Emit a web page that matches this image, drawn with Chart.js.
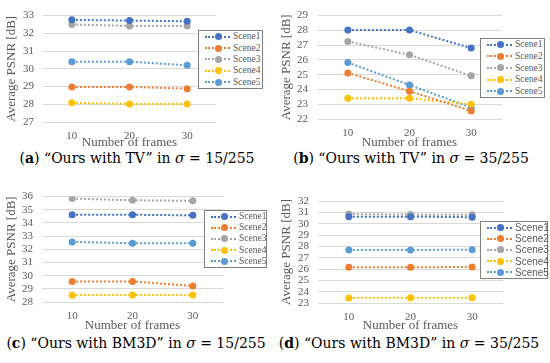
<!DOCTYPE html>
<html>
<head>
<meta charset="utf-8">
<script src="https://cdn.jsdelivr.net/npm/chart.js@4.4.0/dist/chart.umd.min.js"></script>
<style>
    body { margin: 0; background: #fff; width: 550px; height: 363px; position: relative; overflow: hidden; }
    canvas { position: absolute; }
    .legend { position: absolute; box-sizing: border-box; border: 1px solid #7f7f7f; background: #fff; }
    .legend .row { position: relative; }
    .legend .ln { position: absolute; left: 6px; width: 25px; border-top: 2px dotted; }
    .legend .dot { position: absolute; left: 16px; width: 7px; height: 7px; border-radius: 50%; }
    .legend .txt { position: absolute; left: 34px; font-family: "Liberation Serif", serif; font-size: 9.5px; color: #595959; white-space: nowrap; }
    .caption { position: absolute; font-family: "DejaVu Serif", serif; font-size: 14px; color: #000; white-space: nowrap; transform: translate(-50%, -50%); }
</style>
</head>
<body>
<canvas id="chartA"></canvas>
<canvas id="chartB"></canvas>
<canvas id="chartC"></canvas>
<canvas id="chartD"></canvas>

<script>
    const frames = ['10', '20', '30'];
    const sceneNames = ['Scene1', 'Scene2', 'Scene3', 'Scene4', 'Scene5'];
    const sceneColors = ['#4472C4', '#ED7D31', '#A5A5A5', '#FFC000', '#5B9BD5'];

    // Average PSNR per scene (rows) over 10/20/30 frames
    const tv15 = [
        [32.76, 32.72, 32.68],
        [28.98, 28.98, 28.88],
        [32.50, 32.42, 32.42],
        [28.08, 28.02, 28.02],
        [30.40, 30.40, 30.20]
    ];
    const tv35 = [
        [28.02, 28.02, 26.80],
        [25.12, 23.88, 22.55],
        [27.25, 26.35, 24.92],
        [23.40, 23.40, 23.00],
        [25.82, 24.30, 22.78]
    ];
    const bm15 = [
        [34.62, 34.62, 34.58],
        [29.55, 29.56, 29.22],
        [35.85, 35.72, 35.68],
        [28.52, 28.54, 28.53],
        [32.56, 32.46, 32.45]
    ];
    const bm35 = [
        [30.62, 30.62, 30.57],
        [26.15, 26.15, 26.18],
        [30.85, 30.80, 30.78],
        [23.45, 23.47, 23.47],
        [27.68, 27.68, 27.70]
    ];

    const yRangeA = [27, 33];
    const yRangeB = [22, 29];
    const yRangeC = [28, 36];
    const yRangeD = [23, 32];

    const captionA = ['a', '\u201COurs with TV\u201D', '15/255'];
    const captionB = ['b', '\u201COurs with TV\u201D', '35/255'];
    const captionC = ['c', '\u201COurs with BM3D\u201D', '15/255'];
    const captionD = ['d', '\u201COurs with BM3D\u201D', '35/255'];

    const serif = '"Liberation Serif", "Times New Roman", serif';
    const textColor = '#595959';

    // canvas box, plot area inside it, legend box, caption centre
    function makePanel(id, rows, yRange, caption, lay) {
        const canvas = document.getElementById(id);
        canvas.width = lay.w;
        canvas.height = lay.h;
        canvas.style.left = lay.x + 'px';
        canvas.style.top = lay.y + 'px';
        canvas.style.width = lay.w + 'px';
        canvas.style.height = lay.h + 'px';

        new Chart(canvas.getContext('2d'), {
            type: 'line',
            data: {
                labels: frames,
                datasets: sceneNames.map((name, i) => ({
                    label: name,
                    data: rows[i],
                    borderColor: sceneColors[i],
                    backgroundColor: sceneColors[i],
                    borderWidth: 2,
                    borderDash: [2, 2],
                    pointRadius: 3.5,
                    pointBorderWidth: 0,
                    fill: false,
                    tension: 0
                }))
            },
            options: {
                responsive: false,
                animation: false,
                devicePixelRatio: 1,
                layout: { padding: { top: lay.top, right: lay.w - lay.right, left: 0, bottom: 0 } },
                plugins: { legend: { display: false }, tooltip: { enabled: false } },
                scales: {
                    x: {
                        offset: true,
                        grid: { display: false },
                        border: { display: false },
                        ticks: { color: textColor, font: { family: serif, size: 11 }, padding: 0 },
                        title: { display: true, text: 'Number of frames', color: textColor, font: { family: serif, size: 13 }, padding: 0 },
                        afterFit: scale => { scale.height = lay.h - lay.bottom; }
                    },
                    y: {
                        min: yRange[0],
                        max: yRange[1],
                        grid: { color: '#d9d9d9', drawTicks: false },
                        border: { display: false },
                        ticks: { stepSize: 1, autoSkip: false, color: textColor, font: { family: serif, size: 11 }, padding: 9 },
                        title: { display: true, text: 'Average PSNR [dB]', color: textColor, font: { family: serif, size: 13 }, padding: { top: 4, bottom: 0 } },
                        afterFit: scale => { scale.width = lay.left; }
                    }
                }
            }
        });

        // legend box drawn over the plot, like the original
        const lg = document.createElement('div');
        lg.className = 'legend';
        lg.style.left = lay.lg[0] + 'px';
        lg.style.top = lay.lg[1] + 'px';
        lg.style.width = lay.lg[2] + 'px';
        lg.style.height = lay.lg[3] + 'px';
        const rowH = (lay.lg[3] - 2) / sceneNames.length;
        sceneNames.forEach((name, i) => {
            const r = document.createElement('div');
            r.className = 'row';
            r.style.height = rowH + 'px';
            const mid = rowH / 2;
            r.innerHTML =
                '<div class="ln" style="top:' + (mid - 1) + 'px;border-color:' + sceneColors[i] + '"></div>' +
                '<div class="dot" style="top:' + (mid - 3.5) + 'px;background:' + sceneColors[i] + '"></div>' +
                '<div class="txt" style="top:' + (mid - 6.5) + 'px;line-height:13px;' + (lay.sans ? 'font-family:\'Liberation Sans Narrow\',\'Liberation Sans\',sans-serif;font-size:10px;' : '') + '">' + name + '</div>';
            lg.appendChild(r);
        });
        document.body.appendChild(lg);

        const cap = document.createElement('div');
        cap.className = 'caption';
        cap.style.left = lay.cap[0] + 'px';
        cap.style.top = lay.cap[1] + 'px';
        cap.innerHTML = '(<b>' + caption[0] + '</b>) ' + caption[1] + ' in <i>\u03C3</i>&nbsp;=&nbsp;' + caption[2];
        document.body.appendChild(cap);
    }

    makePanel('chartA', tv15, yRangeA, captionA,
        { x: 0, y: 0, w: 275, h: 150, left: 43, right: 216, top: 8, bottom: 122, lg: [198, 30, 65, 59], cap: [137, 158] });
    makePanel('chartB', tv35, yRangeB, captionB,
        { x: 275, y: 0, w: 275, h: 150, left: 42, right: 227, top: 7, bottom: 119, lg: [480, 38, 65, 60], cap: [411, 158] });
    makePanel('chartC', bm15, yRangeC, captionC,
        { x: 0, y: 181, w: 275, h: 152, left: 42, right: 223, top: 15, bottom: 121, lg: [204, 210, 63, 58], cap: [136, 343] });
    makePanel('chartD', bm35, yRangeD, captionD,
        { x: 275, y: 181, w: 275, h: 152, left: 43, right: 228, top: 20, bottom: 122, lg: [480, 221, 68, 58], cap: [409, 343], sans: true });
</script>
</body>
</html>
